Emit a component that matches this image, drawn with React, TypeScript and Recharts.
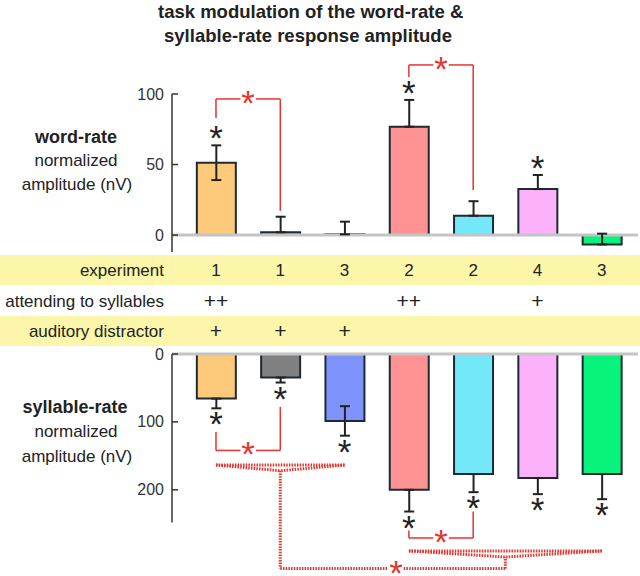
import React from 'react';
import { ComposedChart, Bar, Cell, XAxis, YAxis, ErrorBar, ReferenceLine, ReferenceDot } from 'recharts';

const FONT = '"Liberation Sans", Arial, Helvetica, sans-serif';

// ---- data ----
const conditionIndex = [1, 2, 3, 4, 5, 6, 7];
const barColors = ['#FDC97B', '#808080', '#7F93FD', '#FF9393', '#72E8F9', '#FCB2FB', '#08F37B'];
const experimentRow = ['1', '1', '3', '2', '2', '4', '3'];
const attendingRow = ['++', '', '', '++', '', '+', ''];
const distractorRow = ['+', '+', '+', '', '', '', ''];

const wordRate = [51.3, 2, 0.5, 76.8, 13.7, 32.6, -6.6];
const wordErrLow = [12.3, 0, 0, 0, 0, 0, 0];
const wordErrHigh = [12.3, 11, 9, 19, 10.3, 10, 7.6];
const wordStarBars = [1, 4, 6];
const wordTicks = [0, 50, 100];

const syllRate = [65.7, 34.6, 98.8, 200, 176.8, 182.7, 176.8];
const syllErrLow = [0, 0, 22, 0, 0, 0, 0];
const syllErrHigh = [14.3, 7.4, 21.5, 32, 26.7, 23.7, 37];
const syllStarBars = [1, 2, 3, 4, 5, 6, 7];
const syllTicks = [0, 100, 200];

// brackets: [leftX, rightX, leftEndY, barY, rightEndY]
const wordBrackets = [
  [1, 2, 83, 96.5, 17.2],
  [4, 5, 112, 120.6, 32],
];
const syllBrackets = [
  [1, 2, 115, 142, 78],
  [4, 5, 260, 271, 232],
];
// braces: [fromX, toX, apexX, lineY, apexY]
const syllBraces = [
  [1, 3, 2, 163.5, 172],
  [4, 7, 5.5, 290, 299],
];
// link between brace apexes: [fromX, toX, y, starX]
const braceLink = [2, 5.5, 316, 3.8];

// ---- layout ----
const W = 640;
const PLOT_LEFT = 172;
const PLOT_RIGHT = 638;
const X_MIN = 0.316;
const X_MAX = 7.563;
const Y_AXIS_W = 40;
const colX = (i: number) => PLOT_LEFT + ((i - X_MIN) * (PLOT_RIGHT - PLOT_LEFT)) / (X_MAX - X_MIN);

const RED = '#E5352F';
const STAR_FS = 35;
const STAR_BASE = 16;
const GAP = 0.12;

const wordData = conditionIndex.map((x, i) => ({ x, v: wordRate[i], err: [wordErrLow[i], wordErrHigh[i]] }));
const syllData = conditionIndex.map((x, i) => ({ x, v: syllRate[i], err: [syllErrLow[i], syllErrHigh[i]] }));

const starShape = (color: string, dy: number) => (props: any) => {
  const { cx, cy } = props;
  if (cx == null || cy == null) return <g />;
  return (
    <text x={cx} y={cy + dy + STAR_BASE} textAnchor="middle" fontSize={STAR_FS} fill={color} fontFamily={FONT}>
      *
    </text>
  );
};

const AxisTick = (props: any) => {
  const { x, y, payload } = props;
  return (
    <g>
      <text x={x} y={y} dy={5.5} textAnchor="end" fontSize={16} fill="#333" fontFamily={FONT}>
        {payload.value}
      </text>
      <line x1={x + 8} x2={x + 14} y1={y} y2={y} stroke="#333" strokeWidth={1.5} />
    </g>
  );
};

const seg = (key: string, x1: number, y1: number, x2: number, y2: number, dotted = false) => (
  <ReferenceLine
    key={key}
    segment={[{ x: x1, y: y1 }, { x: x2, y: y2 }]}
    ifOverflow="visible"
    stroke={RED}
    strokeWidth={dotted ? 3 : 1.5}
    strokeDasharray={dotted ? '1.5 1.2' : undefined}
  />
);

const bracketLines = (list: number[][], prefix: string) =>
  list.flatMap(([L, R, le, yb, re], k) => {
    const mid = (L + R) / 2;
    return [
      seg(`${prefix}${k}a`, L, le, L, yb),
      seg(`${prefix}${k}b`, L, yb, mid - GAP, yb),
      seg(`${prefix}${k}c`, mid + GAP, yb, R, yb),
      seg(`${prefix}${k}d`, R, yb, R, re),
    ];
  });

const bracketStars = (list: number[][], prefix: string) =>
  list.map(([L, R, , yb], k) => (
    <ReferenceDot key={`${prefix}s${k}`} x={(L + R) / 2} y={yb} r={6} ifOverflow="visible" shape={starShape(RED, 0)} />
  ));

const textBase: React.CSSProperties = { position: 'absolute', fontFamily: FONT, color: '#222', whiteSpace: 'nowrap' };

const Centered = ({ x, y, size, bold, children, color }: any) => (
  <div
    style={{
      ...textBase,
      left: x - 150,
      width: 300,
      top: y - 12,
      height: 24,
      lineHeight: '24px',
      textAlign: 'center',
      fontSize: size,
      fontWeight: bold ? 'bold' : 'normal',
      color: color || '#222',
    }}
  >
    {children}
  </div>
);

const RowLabel = ({ y, children }: any) => (
  <div style={{ ...textBase, left: 0, width: 164, top: y - 12, height: 24, lineHeight: '24px', textAlign: 'right', fontSize: 17 }}>
    {children}
  </div>
);

export default function App() {
  const [lx, rx, ly, sx] = braceLink;
  return (
    <div style={{ position: 'absolute', left: 0, top: 0, width: W, height: 576, background: '#fff', overflow: 'hidden' }}>
      {/* title */}
      <Centered x={308} y={12} size={18.5} bold>
        task modulation of the word-rate &amp;
      </Centered>
      <Centered x={308} y={36} size={18.5} bold>
        syllable-rate response amplitude
      </Centered>

      {/* yellow bands */}
      <div style={{ position: 'absolute', left: 0, top: 255, width: W, height: 30, background: '#FBF6A9' }} />
      <div style={{ position: 'absolute', left: 0, top: 316, width: W, height: 30, background: '#FBF6A9' }} />

      {/* row labels and values */}
      <RowLabel y={270.5}>experiment</RowLabel>
      <RowLabel y={301.5}>attending to syllables</RowLabel>
      <RowLabel y={331.5}>auditory distractor</RowLabel>
      {conditionIndex.map((c, i) => (
        <React.Fragment key={c}>
          <Centered x={colX(c)} y={270.5} size={17}>{experimentRow[i]}</Centered>
          <Centered x={colX(c)} y={300.5} size={21}>{attendingRow[i]}</Centered>
          <Centered x={colX(c)} y={330.5} size={21}>{distractorRow[i]}</Centered>
        </React.Fragment>
      ))}

      {/* left axis titles */}
      <Centered x={76} y={137} size={18} bold>word-rate</Centered>
      <Centered x={76} y={161} size={17}>normalized</Centered>
      <Centered x={77} y={185} size={17}>amplitude (nV)</Centered>
      <Centered x={75} y={407} size={18} bold>syllable-rate</Centered>
      <Centered x={76} y={432} size={17}>normalized</Centered>
      <Centered x={77} y={457} size={17}>amplitude (nV)</Centered>

      {/* word-rate chart */}
      <div style={{ position: 'absolute', left: 0, top: 0 }}>
        <ComposedChart
          width={W}
          height={256}
          data={wordData}
          margin={{ top: 94, right: W - PLOT_RIGHT, bottom: 4, left: PLOT_LEFT - Y_AXIS_W }}
          style={{ overflow: 'visible' }}
        >
          <XAxis dataKey="x" type="number" domain={[X_MIN, X_MAX]} hide />
          <YAxis
            type="number"
            domain={[-12, 100]}
            ticks={wordTicks}
            width={Y_AXIS_W}
            tickLine={false}
            tickSize={0}
            tickMargin={8}
            axisLine={{ stroke: '#333', strokeWidth: 1.5 }}
            tick={<AxisTick />}
          />
          <ReferenceLine y={0} stroke="#C4C4C4" strokeWidth={3} />
          <Bar dataKey="v" barSize={39} stroke="#1E2A33" strokeWidth={2} isAnimationActive={false}>
            {wordData.map((d, i) => (
              <Cell key={d.x} fill={barColors[i]} />
            ))}
            <ErrorBar dataKey="err" width={5} stroke="#222" strokeWidth={2} />
          </Bar>
          {wordStarBars.map((b) => (
            <ReferenceDot
              key={`ws${b}`}
              x={b}
              y={wordRate[b - 1] + wordErrHigh[b - 1]}
              r={6}
              ifOverflow="visible"
              shape={starShape('#222', -11)}
            />
          ))}
          {bracketLines(wordBrackets, 'wb')}
          {bracketStars(wordBrackets, 'wb')}
        </ComposedChart>
      </div>

      {/* syllable-rate chart */}
      <div style={{ position: 'absolute', left: 0, top: 340 }}>
        <ComposedChart
          width={W}
          height={236}
          data={syllData}
          margin={{ top: 14, right: W - PLOT_RIGHT, bottom: 53.6, left: PLOT_LEFT - Y_AXIS_W }}
          style={{ overflow: 'visible' }}
        >
          <XAxis dataKey="x" type="number" domain={[X_MIN, X_MAX]} hide />
          <YAxis
            type="number"
            domain={[0, 248]}
            reversed
            ticks={syllTicks}
            width={Y_AXIS_W}
            tickLine={false}
            tickSize={0}
            tickMargin={8}
            axisLine={{ stroke: '#333', strokeWidth: 1.5 }}
            tick={<AxisTick />}
          />
          <ReferenceLine y={0} stroke="#C4C4C4" strokeWidth={3} />
          <Bar dataKey="v" barSize={39} stroke="#1E2A33" strokeWidth={2} isAnimationActive={false}>
            {syllData.map((d, i) => (
              <Cell key={d.x} fill={barColors[i]} />
            ))}
            <ErrorBar dataKey="err" width={5} stroke="#222" strokeWidth={2} />
          </Bar>
          {syllStarBars.map((b) => (
            <ReferenceDot
              key={`ss${b}`}
              x={b}
              y={syllRate[b - 1] + syllErrHigh[b - 1]}
              r={6}
              ifOverflow="visible"
              shape={starShape('#222', 12)}
            />
          ))}
          {bracketLines(syllBrackets, 'sb')}
          {bracketStars(syllBrackets, 'sb')}
          {syllBraces.flatMap(([f, t, a, yl, ya], k) => [
            seg(`br${k}a`, f, yl, t, yl, true),
            seg(`br${k}b`, f, yl, a, ya, true),
            seg(`br${k}c`, t, yl, a, ya, true),
          ])}
          {seg('lk1', lx, syllBraces[0][4], lx, ly, true)}
          {seg('lk2', lx, ly, sx - GAP, ly, true)}
          {seg('lk3', sx + GAP, ly, rx, ly, true)}
          {seg('lk4', rx, ly, rx, syllBraces[1][4], true)}
          <ReferenceDot x={sx} y={ly} r={6} ifOverflow="visible" shape={starShape(RED, 0)} />
        </ComposedChart>
      </div>
    </div>
  );
}
